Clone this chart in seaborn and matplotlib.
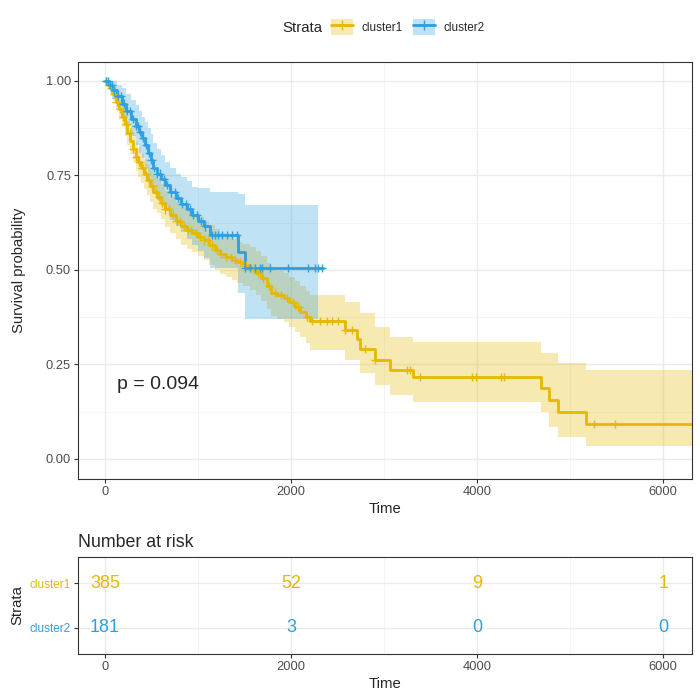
import numpy as np
import pandas as pd
import matplotlib
matplotlib.use("Agg")
import matplotlib.pyplot as plt
from matplotlib.patches import Patch
from matplotlib.lines import Line2D
import seaborn as sns

# Kaplan-Meier estimate, cluster1
c1_time = [0, 30, 60, 90, 120, 150, 180, 210, 240, 270,
           300, 330, 360, 390, 420, 450, 480, 520, 560, 600,
           650, 700, 760, 820, 880, 940, 1000, 1060, 1120, 1180,
           1240, 1300, 1360, 1420, 1480, 1560, 1620, 1680, 1740, 1780,
           1850, 1920, 1980, 2040, 2100, 2160, 2200, 2580, 2709, 2741,
           2903, 3064, 3311, 4687, 4773, 4870, 5171]
c1_surv = [1.0, 0.99, 0.98, 0.965, 0.945, 0.925, 0.905, 0.885, 0.862, 0.84,
           0.82, 0.80, 0.785, 0.77, 0.753, 0.738, 0.722, 0.705, 0.693, 0.677,
           0.66, 0.645, 0.63, 0.615, 0.605, 0.597, 0.588, 0.578, 0.565, 0.553,
           0.543, 0.535, 0.527, 0.52, 0.513, 0.503, 0.493, 0.478, 0.458, 0.44,
           0.433, 0.426, 0.415, 0.403, 0.39, 0.376, 0.365, 0.341, 0.318, 0.29,
           0.262, 0.236, 0.217, 0.188, 0.156, 0.124, 0.093]
c1_upper = [1.0, 1.0, 0.995, 0.985, 0.968, 0.95, 0.933, 0.915, 0.895, 0.875,
            0.857, 0.838, 0.824, 0.81, 0.794, 0.78, 0.765, 0.749, 0.74, 0.726,
            0.708, 0.694, 0.68, 0.666, 0.656, 0.648, 0.639, 0.63, 0.618, 0.607,
            0.598, 0.59, 0.582, 0.575, 0.569, 0.56, 0.551, 0.537, 0.519, 0.503,
            0.497, 0.491, 0.481, 0.47, 0.458, 0.445, 0.434, 0.415, 0.415, 0.386,
            0.349, 0.323, 0.31, 0.28, 0.28, 0.254, 0.235]
c1_lower = [1.0, 0.98, 0.965, 0.947, 0.922, 0.90, 0.877, 0.855, 0.83, 0.806,
            0.785, 0.763, 0.746, 0.73, 0.713, 0.697, 0.68, 0.662, 0.651, 0.635,
            0.614, 0.598, 0.582, 0.566, 0.556, 0.547, 0.538, 0.527, 0.513, 0.5,
            0.49, 0.481, 0.473, 0.465, 0.458, 0.447, 0.435, 0.419, 0.397, 0.377,
            0.369, 0.361, 0.349, 0.336, 0.322, 0.307, 0.288, 0.262, 0.262, 0.228,
            0.196, 0.169, 0.151, 0.124, 0.085, 0.058, 0.034]
c1_end = 6310
c1_censor = [15, 40, 65, 95, 125, 160, 195, 230, 265, 300, 335, 370, 405, 440,
             475, 510, 545, 580, 615, 650, 690, 730, 770, 810, 850, 890, 930,
             975, 1020, 1065, 1110, 1155, 1200, 1250, 1300, 1350, 1400, 1450,
             1520, 1590, 1650, 1700, 1760, 1830, 1890, 1960, 2020, 2080, 2172,
             2225, 2311, 2386, 2440, 2505, 2580, 2655, 2795, 2903, 3246, 3279,
             3386, 3945, 3988, 4257, 4289, 5257, 5483]

# Kaplan-Meier estimate, cluster2
c2_time = [0, 40, 80, 130, 180, 230, 280, 330, 370, 400,
           430, 460, 490, 520, 560, 600, 650, 700, 760, 820,
           880, 940, 1000, 1060, 1129, 1430, 1505]
c2_surv = [1.0, 0.99, 0.975, 0.96, 0.94, 0.92, 0.90, 0.88, 0.865, 0.85,
           0.83, 0.81, 0.79, 0.77, 0.755, 0.74, 0.725, 0.705, 0.69, 0.675,
           0.66, 0.645, 0.63, 0.615, 0.593, 0.548, 0.505]
c2_upper = [1.0, 1.0, 1.0, 0.99, 0.98, 0.965, 0.95, 0.935, 0.92, 0.905,
            0.89, 0.875, 0.86, 0.835, 0.82, 0.805, 0.785, 0.77, 0.755, 0.745,
            0.735, 0.72, 0.717, 0.717, 0.705, 0.70, 0.672]
c2_lower = [1.0, 0.975, 0.952, 0.93, 0.905, 0.88, 0.855, 0.83, 0.81, 0.795,
            0.77, 0.745, 0.722, 0.70, 0.685, 0.67, 0.655, 0.632, 0.615, 0.60,
            0.582, 0.567, 0.55, 0.532, 0.505, 0.44, 0.37]
c2_end = 2344
c2_band_end = 2290
c2_censor = [10, 30, 55, 75, 100, 140, 170, 200, 240, 270, 300, 330, 350, 380,
             410, 440, 470, 500, 530, 560, 590, 630, 670, 710, 750, 790, 830,
             870, 910, 950, 990, 1030, 1080, 1150, 1182, 1215, 1258, 1311, 1365,
             1419, 1505, 1559, 1612, 1666, 1688, 1774, 1967, 2182, 2258, 2290, 2330]

strata = ["cluster1", "cluster2"]
risk_times = [0, 2000, 4000, 6000]
risk_c1 = [385, 52, 9, 1]
risk_c2 = [181, 3, 0, 0]
pval_label = "p = 0.094"

palette = {"cluster1": "#E7B800", "cluster2": "#2E9FDF"}


def km_frame(name, t, s, lo, up, t_end):
    df = pd.DataFrame({"time": t + [t_end], "surv": s + [s[-1]],
                       "lower": lo + [lo[-1]], "upper": up + [up[-1]]})
    df["strata"] = name
    return df


def censor_frame(name, t, s, cens):
    idx = np.searchsorted(t, cens, side="right") - 1
    return pd.DataFrame({"time": cens, "surv": np.array(s)[idx], "strata": name})


curves = pd.concat([km_frame("cluster1", c1_time, c1_surv, c1_lower, c1_upper, c1_end),
                    km_frame("cluster2", c2_time, c2_surv, c2_lower, c2_upper, c2_end)])
bands = pd.concat([km_frame("cluster1", c1_time, c1_surv, c1_lower, c1_upper, c1_end),
                   km_frame("cluster2", c2_time, c2_surv, c2_lower, c2_upper, c2_band_end)])
censors = pd.concat([censor_frame("cluster1", c1_time, c1_surv, c1_censor),
                     censor_frame("cluster2", c2_time, c2_surv, c2_censor)])

sns.set_style("white")
plt.rcParams["font.family"] = ["Liberation Sans", "DejaVu Sans"]

fig = plt.figure(figsize=(7, 7), dpi=100)
ax = fig.add_axes([78 / 700, 1 - 479 / 700, 614 / 700, 417 / 700])
ax_tab = fig.add_axes([78 / 700, 1 - 654 / 700, 614 / 700, 97 / 700])

# --- curva de sobrevivencia ---
for name in strata:
    d = bands[bands["strata"] == name]
    ax.fill_between(d["time"], d["lower"], d["upper"], step="post",
                    color=palette[name], alpha=0.3, linewidth=0, zorder=2)

sns.lineplot(data=curves, x="time", y="surv", hue="strata", palette=palette,
             drawstyle="steps-post", estimator=None, sort=False, linewidth=2,
             legend=False, ax=ax, zorder=3)
sns.scatterplot(data=censors, x="time", y="surv", hue="strata", palette=palette,
                marker="+", s=36, linewidth=1, legend=False, ax=ax, zorder=4)

ax.text(129, 0.196, pval_label, fontsize=14, va="center", ha="left")

ax.set_xlim(-290, 6310)
ax.set_ylim(-0.053, 1.05)
ax.set_xticks([0, 2000, 4000, 6000])
ax.set_xticks([1000, 3000, 5000], minor=True)
ax.set_yticks([0, 0.25, 0.5, 0.75, 1.0])
ax.set_yticklabels(["0.00", "0.25", "0.50", "0.75", "1.00"])
ax.set_yticks([0.125, 0.375, 0.625, 0.875], minor=True)
ax.set_xlabel("Time", fontsize=10.7, labelpad=3)
ax.set_ylabel("Survival probability", fontsize=10.7, labelpad=14)

# --- tabela de numero em risco ---
rows = {"cluster1": 2, "cluster2": 1}
for name, counts in zip(strata, [risk_c1, risk_c2]):
    for t, n in zip(risk_times, counts):
        ax_tab.text(t, rows[name], str(n), ha="center", va="center",
                    color=palette[name], fontsize=13)

ax_tab.set_xlim(-290, 6310)
ax_tab.set_ylim(0.4, 2.6)
ax_tab.set_xticks([0, 2000, 4000, 6000])
ax_tab.set_xticks([1000, 3000, 5000], minor=True)
ax_tab.set_yticks([1, 2])
ax_tab.set_yticklabels(["cluster2", "cluster1"])
ax_tab.set_xlabel("Time", fontsize=10.7, labelpad=3)
ax_tab.set_ylabel("Strata", fontsize=10.7, labelpad=4)
ax_tab.set_title("Number at risk", loc="left", fontsize=12.8, pad=7)

for a in [ax, ax_tab]:
    a.set_axisbelow(True)
    a.grid(which="major", color="#EBEBEB", linewidth=1.0)
    a.grid(which="minor", color="#F3F3F3", linewidth=0.6)
    a.tick_params(which="major", bottom=True, left=True, length=3, width=0.8,
                  color="#333333", labelsize=9.3, labelcolor="#4D4D4D", pad=2)
    a.tick_params(which="minor", length=0)
    for sp in a.spines.values():
        sp.set_color("#333333")
        sp.set_linewidth(0.8)
ax_tab.tick_params(axis="y", labelsize=8.5)
for lab, name in zip(ax_tab.get_yticklabels(), ["cluster2", "cluster1"]):
    lab.set_color(palette[name])

# --- legenda no topo ---
fig.text(282 / 700, 1 - 28 / 700, "Strata", fontsize=10.8, va="center", ha="left")
handles = [(Patch(facecolor=palette[n], alpha=0.3, linewidth=0),
            Line2D([], [], color=palette[n], linewidth=2, marker="+",
                   markersize=7, markeredgewidth=1)) for n in strata]
fig.legend(handles=handles, labels=strata, loc="center left",
           bbox_to_anchor=(331 / 700, 1 - 27 / 700), ncol=2, frameon=False,
           fontsize=8.5, handlelength=1.85, handleheight=1.8, handletextpad=0.7,
           columnspacing=0.9, borderpad=0, borderaxespad=0)

fig.savefig("out.png", dpi=100)
